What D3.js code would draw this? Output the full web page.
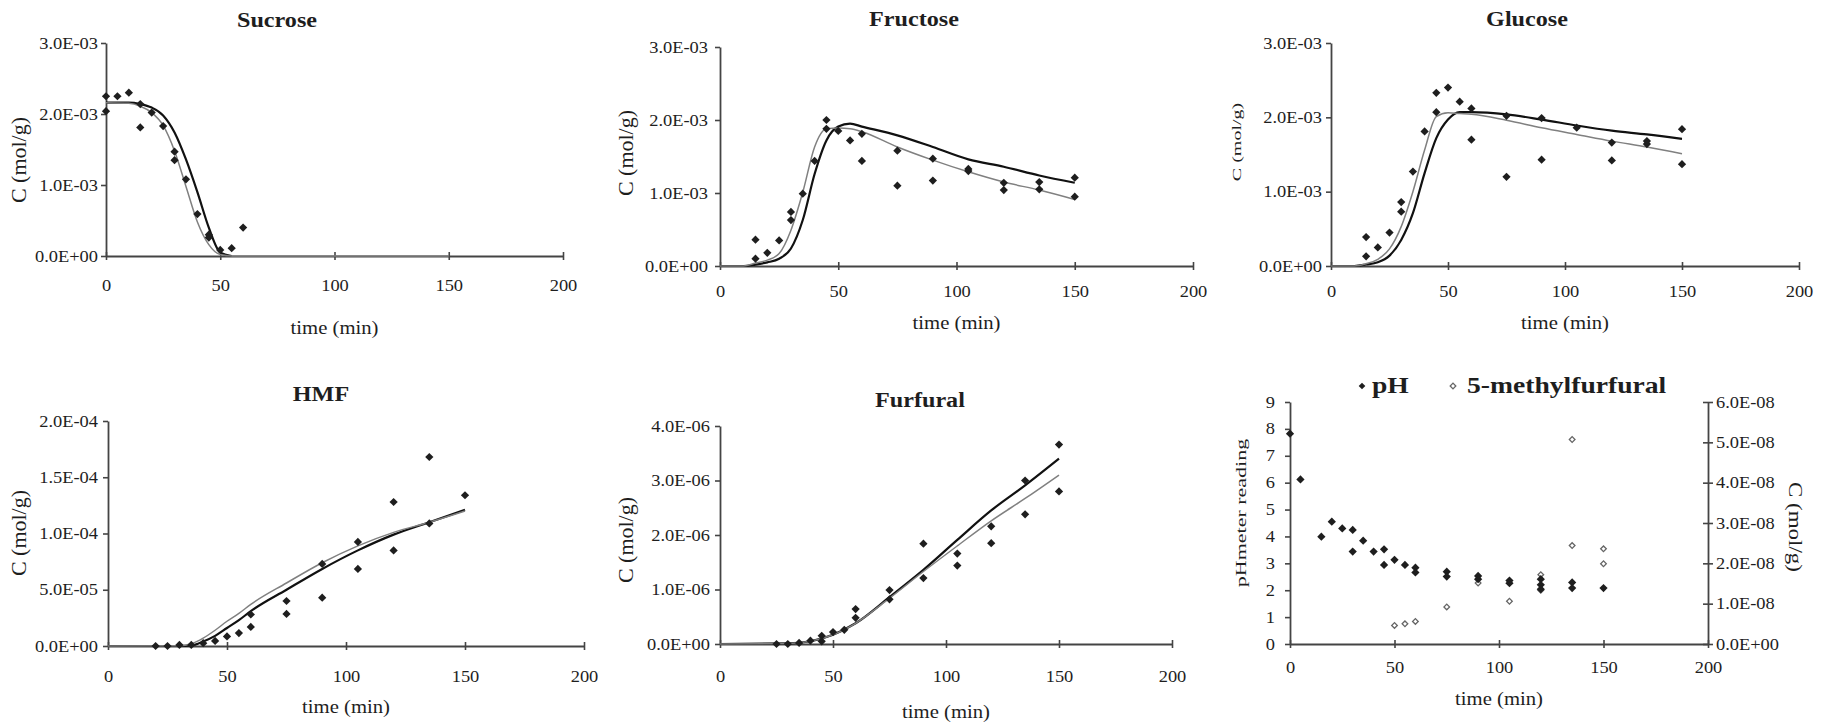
<!DOCTYPE html>
<html>
<head>
<meta charset="utf-8">
<script src="https://cdn.jsdelivr.net/npm/d3@7"></script>
<style>
  body { margin: 0; background: #fff; }
</style>
</head>
<body>
<svg id="chart" width="1825" height="726"></svg>
<script>
const FONT = '"Liberation Serif", "Times New Roman", serif';
const INK = '#1e1e1e';
const AXIS = '#444';
const STRETCH = 1.15;

const xTicks = [0, 50, 100, 150, 200];

// Sucrose
const sucroseT = [0, 0, 5, 10, 15, 15, 20, 25, 30, 30, 35, 40, 45, 45, 50, 55, 60];
const sucroseC = [2.25e-3, 2.04e-3, 2.25e-3, 2.30e-3, 2.14e-3, 1.81e-3, 2.02e-3, 1.83e-3, 1.47e-3, 1.35e-3,
  1.08e-3, 0.59e-3, 0.30e-3, 0.26e-3, 0.085e-3, 0.11e-3, 0.40e-3];
const sucroseFitT1 = [0, 10, 15, 20, 25, 30, 35, 40, 45, 50, 55];
const sucroseFit1 = [2.16e-3, 2.16e-3, 2.14e-3, 2.09e-3, 1.98e-3, 1.74e-3, 1.36e-3, 0.90e-3, 0.40e-3, 0.05e-3, 0];
const sucroseFitT2 = [0, 10, 15, 20, 25, 30, 35, 40, 45, 50, 55, 150];
const sucroseFit2 = [2.16e-3, 2.15e-3, 2.11e-3, 2.02e-3, 1.84e-3, 1.48e-3, 0.98e-3, 0.48e-3, 0.16e-3, 0.02e-3, 0, 0];
const sucroseTicks = [0, 1e-3, 2e-3, 3e-3];

// Fructose
const fructoseT = [15, 15, 20, 25, 30, 30, 35, 40, 45, 45, 50, 55, 60, 60, 75, 75, 90, 90, 105, 105, 120, 120, 135, 135, 150, 150];
const fructoseC = [0.36e-3, 0.10e-3, 0.18e-3, 0.35e-3, 0.74e-3, 0.63e-3, 0.99e-3, 1.44e-3, 2.00e-3, 1.88e-3,
  1.85e-3, 1.72e-3, 1.81e-3, 1.44e-3, 1.58e-3, 1.10e-3, 1.47e-3, 1.17e-3, 1.33e-3, 1.30e-3,
  1.14e-3, 1.04e-3, 1.15e-3, 1.05e-3, 1.21e-3, 0.95e-3];
const fructoseFitT = [0, 10, 15, 20, 25, 30, 35, 40, 45, 50, 55, 60, 75, 90, 105, 120, 135, 150];
const fructoseFit1 = [0, 0, 0.02e-3, 0.05e-3, 0.10e-3, 0.24e-3, 0.63e-3, 1.26e-3, 1.72e-3, 1.91e-3, 1.95e-3, 1.91e-3,
  1.79e-3, 1.63e-3, 1.46e-3, 1.36e-3, 1.24e-3, 1.14e-3];
const fructoseFit2 = [0, 0, 0.04e-3, 0.08e-3, 0.17e-3, 0.49e-3, 1.01e-3, 1.63e-3, 1.88e-3, 1.89e-3, 1.88e-3, 1.84e-3,
  1.63e-3, 1.45e-3, 1.29e-3, 1.15e-3, 1.04e-3, 0.91e-3];
const fructoseTicks = [0, 1e-3, 2e-3, 3e-3];

// Glucose
const glucoseT = [15, 15, 20, 25, 30, 30, 35, 40, 45, 45, 50, 55, 60, 60, 75, 75, 90, 90, 105, 120, 120, 135, 135, 150, 150];
const glucoseC = [0.39e-3, 0.13e-3, 0.25e-3, 0.45e-3, 0.86e-3, 0.73e-3, 1.27e-3, 1.81e-3, 2.33e-3, 2.07e-3,
  2.40e-3, 2.21e-3, 2.12e-3, 1.70e-3, 2.02e-3, 1.20e-3, 1.99e-3, 1.43e-3, 1.86e-3, 1.66e-3,
  1.42e-3, 1.68e-3, 1.64e-3, 1.84e-3, 1.37e-3];
const glucoseFitT = [0, 10, 15, 20, 25, 30, 35, 40, 45, 50, 55, 60, 75, 90, 105, 120, 135, 150];
const glucoseFit1 = [0, 0, 0.02e-3, 0.05e-3, 0.14e-3, 0.35e-3, 0.71e-3, 1.25e-3, 1.72e-3, 1.97e-3, 2.07e-3, 2.07e-3,
  2.04e-3, 1.97e-3, 1.89e-3, 1.82e-3, 1.77e-3, 1.71e-3];
const glucoseFit2 = [0, 0, 0.03e-3, 0.09e-3, 0.23e-3, 0.53e-3, 1.00e-3, 1.56e-3, 2.01e-3, 2.06e-3, 2.05e-3, 2.04e-3,
  1.96e-3, 1.86e-3, 1.77e-3, 1.68e-3, 1.60e-3, 1.51e-3];
const glucoseTicks = [0, 1e-3, 2e-3, 3e-3];

// HMF
const hmfT = [20, 25, 30, 35, 40, 45, 50, 55, 60, 60, 75, 75, 90, 90, 105, 105, 120, 120, 135, 135, 150];
const hmfC = [0, 0, 0.1e-5, 0.1e-5, 0.25e-5, 0.45e-5, 0.85e-5, 1.15e-5, 2.8e-5, 1.7e-5, 4.0e-5, 2.85e-5,
  7.3e-5, 4.3e-5, 9.25e-5, 6.85e-5, 12.8e-5, 8.5e-5, 16.8e-5, 10.9e-5, 13.4e-5];
const hmfFitT = [0, 30, 35, 40, 45, 50, 55, 60, 75, 90, 105, 120, 135, 150];
const hmfFit1 = [0, 0, 0.05e-5, 0.4e-5, 0.9e-5, 1.6e-5, 2.3e-5, 3.1e-5, 5.0e-5, 6.85e-5, 8.5e-5, 9.9e-5, 11.0e-5, 12.1e-5];
const hmfFit2 = [0, 0.02e-5, 0.2e-5, 0.7e-5, 1.4e-5, 2.2e-5, 2.9e-5, 3.7e-5, 5.6e-5, 7.4e-5, 8.9e-5, 10.1e-5, 11.0e-5, 12.0e-5];
const hmfTicks = [0, 5e-5, 1e-4, 1.5e-4, 2e-4];

// Furfural
const furfuralT = [25, 30, 35, 40, 45, 45, 50, 55, 60, 60, 75, 75, 90, 90, 105, 105, 120, 120, 135, 135, 150, 150];
const furfuralC = [0, 0, 0.02e-6, 0.06e-6, 0.15e-6, 0.05e-6, 0.22e-6, 0.26e-6, 0.64e-6, 0.48e-6, 0.99e-6, 0.82e-6,
  1.84e-6, 1.21e-6, 1.66e-6, 1.44e-6, 2.16e-6, 1.85e-6, 3.00e-6, 2.38e-6, 3.66e-6, 2.80e-6];
const furfuralFitT = [0, 30, 40, 50, 60, 75, 90, 105, 120, 135, 150];
const furfuralFit1 = [0, 0.01e-6, 0.05e-6, 0.17e-6, 0.38e-6, 0.86e-6, 1.36e-6, 1.91e-6, 2.45e-6, 2.91e-6, 3.40e-6];
const furfuralFit2 = [0, 0.01e-6, 0.05e-6, 0.17e-6, 0.38e-6, 0.84e-6, 1.33e-6, 1.80e-6, 2.26e-6, 2.67e-6, 3.10e-6];
const furfuralTicks = [0, 1e-6, 2e-6, 3e-6, 4e-6];

// pH and 5-methylfurfural
const phT = [0, 5, 15, 20, 25, 30, 30, 35, 40, 45, 45, 50, 55, 60, 60, 75, 75, 90, 90, 105, 105, 120, 120, 120, 135, 135, 150];
const phV = [7.82, 6.12, 3.99, 4.55, 4.30, 4.24, 3.44, 3.84, 3.44, 3.52, 2.94, 3.13, 2.94, 2.84, 2.66,
  2.69, 2.51, 2.53, 2.41, 2.36, 2.26, 2.41, 2.20, 2.04, 2.29, 2.08, 2.08];
const methylT = [50, 55, 60, 75, 90, 105, 120, 120, 135, 135, 150, 150];
const methylC = [0.46e-8, 0.50e-8, 0.56e-8, 0.92e-8, 1.51e-8, 1.06e-8, 1.72e-8, 1.33e-8, 5.07e-8, 2.44e-8, 2.36e-8, 1.99e-8];
const phTicks = [0, 1, 2, 3, 4, 5, 6, 7, 8, 9];
const methylTicks = [0, 1e-8, 2e-8, 3e-8, 4e-8, 5e-8, 6e-8];

const panels = [
  {title: 'Sucrose', t: sucroseT, c: sucroseC, yTicks: sucroseTicks,
    fits: [[sucroseFitT1, sucroseFit1], [sucroseFitT2, sucroseFit2]],
    left: 106, right: 563, top: 43, bottom: 256, titleX: 277, titleY: 20,
    yLab: {x: 19, y: 160, size: 22, k: 0.95}, xLabY: 328, xGap: 30, yGap: 8},
  {title: 'Fructose', t: fructoseT, c: fructoseC, yTicks: fructoseTicks,
    fits: [[fructoseFitT, fructoseFit1], [fructoseFitT, fructoseFit2]],
    left: 720, right: 1193, top: 47, bottom: 266, titleX: 914, titleY: 19,
    yLab: {x: 626, y: 153, size: 22, k: 0.95}, xLabY: 323, xGap: 26, yGap: 12},
  {title: 'Glucose', t: glucoseT, c: glucoseC, yTicks: glucoseTicks,
    fits: [[glucoseFitT, glucoseFit1], [glucoseFitT, glucoseFit2]],
    left: 1331, right: 1799, top: 43, bottom: 266, titleX: 1527, titleY: 19,
    yLab: {x: 1237, y: 142, size: 20, k: 0.6}, xLabY: 323, xGap: 26, yGap: 9},
  {title: 'HMF', t: hmfT, c: hmfC, yTicks: hmfTicks,
    fits: [[hmfFitT, hmfFit1], [hmfFitT, hmfFit2]],
    left: 108, right: 584, top: 421, bottom: 646, titleX: 321, titleY: 394,
    yLab: {x: 19, y: 533, size: 22, k: 0.95}, xLabY: 707, xGap: 31, yGap: 10},
  {title: 'Furfural', t: furfuralT, c: furfuralC, yTicks: furfuralTicks,
    fits: [[furfuralFitT, furfuralFit1], [furfuralFitT, furfuralFit2]],
    left: 720, right: 1172, top: 426, bottom: 644, titleX: 920, titleY: 400,
    yLab: {x: 626, y: 540, size: 22, k: 0.95}, xLabY: 712, xGap: 33, yGap: 10},
];

const svg = d3.select('#chart');

function sci(v) {
  const [m, e] = v.toExponential(1).split('e');
  const n = +e;
  return `${m}E${n < 0 ? '-' : '+'}${String(Math.abs(n)).padStart(2, '0')}`;
}

function label(parent, x, y, text, size, opts = {}) {
  const k = opts.k ?? STRETCH;
  return parent.append('text')
    .attr('transform', `translate(${x},${y}) scale(${k},1) rotate(${opts.rotate ?? 0})`)
    .attr('text-anchor', opts.anchor ?? 'middle')
    .attr('dominant-baseline', 'central')
    .attr('font-family', FONT)
    .attr('font-size', size)
    .attr('font-weight', opts.bold ? 'bold' : null)
    .attr('fill', INK)
    .text(text);
}

function styleAxis(g) {
  g.attr('font-family', FONT).attr('font-size', 16);
  g.select('.domain').attr('stroke', AXIS).attr('stroke-width', 1.8);
  g.selectAll('.tick line').attr('stroke', AXIS).attr('stroke-width', 1.6);
  g.selectAll('.tick text').attr('fill', INK).attr('dominant-baseline', 'central').attr('dy', null);
}

function xAxis(g, x, bottom, gap) {
  const ax = g.append('g').attr('transform', `translate(0,${bottom})`)
    .call(d3.axisBottom(x).tickValues(xTicks).tickFormat(d3.format('d')).tickSize(4).tickSizeOuter(0));
  styleAxis(ax);
  ax.selectAll('.tick line').attr('y1', -4).attr('y2', 4);
  ax.selectAll('.tick text').attr('y', gap).attr('transform', `scale(${STRETCH},1)`);
}

function yAxisLeft(g, y, left, ticks, fmt, gap) {
  const ax = g.append('g').attr('transform', `translate(${left},0)`)
    .call(d3.axisLeft(y).tickValues(ticks).tickFormat(fmt).tickSize(5).tickSizeOuter(0));
  styleAxis(ax);
  ax.selectAll('.tick text').attr('x', -gap / STRETCH).attr('transform', `scale(${STRETCH},1)`);
}

const diamond = d3.symbol().type(d3.symbolSquare).size(34);
const hollow = d3.symbol().type(d3.symbolSquare).size(16);

function drawPoints(g, pts, x, y) {
  g.append('g').selectAll('path').data(pts).join('path')
    .attr('d', diamond)
    .attr('transform', d => `translate(${x(d[0])},${y(d[1])}) rotate(45)`)
    .attr('fill', INK);
}

function drawPanel(p) {
  const x = d3.scaleLinear().domain([0, 200]).range([p.left, p.right]);
  const y = d3.scaleLinear().domain([0, d3.max(p.yTicks)]).range([p.bottom, p.top]);
  const g = svg.append('g');

  xAxis(g, x, p.bottom, p.xGap);
  yAxisLeft(g, y, p.left, p.yTicks, sci, p.yGap);

  const line = d3.line().x(d => x(d[0])).y(d => y(d[1])).curve(d3.curveMonotoneX);
  p.fits.forEach(([ft, fc], i) => {
    g.append('path').datum(d3.zip(ft, fc))
      .attr('d', line)
      .attr('fill', 'none')
      .attr('stroke', i === 0 ? '#111' : '#808080')
      .attr('stroke-width', i === 0 ? 2.2 : 1.5);
  });

  drawPoints(g, d3.zip(p.t, p.c), x, y);

  label(g, p.titleX, p.titleY, p.title, 21, {bold: true});
  label(g, (p.left + p.right) / 2, p.xLabY, 'time (min)', 18);
  label(g, p.yLab.x, p.yLab.y, 'C (mol/g)', p.yLab.size, {rotate: -90, k: p.yLab.k});
}

panels.forEach(drawPanel);

// pH panel with a second axis for 5-methylfurfural
(function drawPh() {
  const left = 1290, right = 1708, top = 402, bottom = 644;
  const x = d3.scaleLinear().domain([0, 200]).range([left, right]);
  const yPh = d3.scaleLinear().domain([0, 9]).range([bottom, top]);
  const yMf = d3.scaleLinear().domain([0, 6e-8]).range([bottom, top]);
  const g = svg.append('g');

  xAxis(g, x, bottom, 24);
  yAxisLeft(g, yPh, left, phTicks, d3.format('d'), 15);

  const ar = g.append('g').attr('transform', `translate(${right},0)`)
    .call(d3.axisRight(yMf).tickValues(methylTicks).tickFormat(sci).tickSize(5).tickSizeOuter(0));
  styleAxis(ar);
  ar.selectAll('.tick line').attr('x1', -5).attr('x2', 5);
  ar.selectAll('.tick text').attr('x', 8 / STRETCH).attr('transform', `scale(${STRETCH},1)`);

  g.append('g').selectAll('path').data(d3.zip(methylT, methylC)).join('path')
    .attr('d', hollow)
    .attr('transform', d => `translate(${x(d[0])},${yMf(d[1])}) rotate(45)`)
    .attr('fill', '#fff')
    .attr('stroke', '#666')
    .attr('stroke-width', 1.3);

  drawPoints(g, d3.zip(phT, phV), x, yPh);

  // legend
  g.append('path').attr('d', d3.symbol().type(d3.symbolSquare).size(22))
    .attr('transform', 'translate(1362,386) rotate(45)').attr('fill', INK);
  label(g, 1372, 385, 'pH', 24, {bold: true, anchor: 'start'});
  g.append('path').attr('d', hollow)
    .attr('transform', 'translate(1453,386) rotate(45)')
    .attr('fill', '#fff').attr('stroke', '#666').attr('stroke-width', 1.3);
  label(g, 1467, 385, '5-methylfurfural', 24, {bold: true, anchor: 'start'});

  label(g, (left + right) / 2, 699, 'time (min)', 18);
  label(g, 1241, 513, 'pHmeter reading', 22, {rotate: -90, k: 0.7});
  label(g, 1795, 527, 'C (mol/g)', 23, {rotate: 90, k: 0.8});
})();
</script>
</body>
</html>
